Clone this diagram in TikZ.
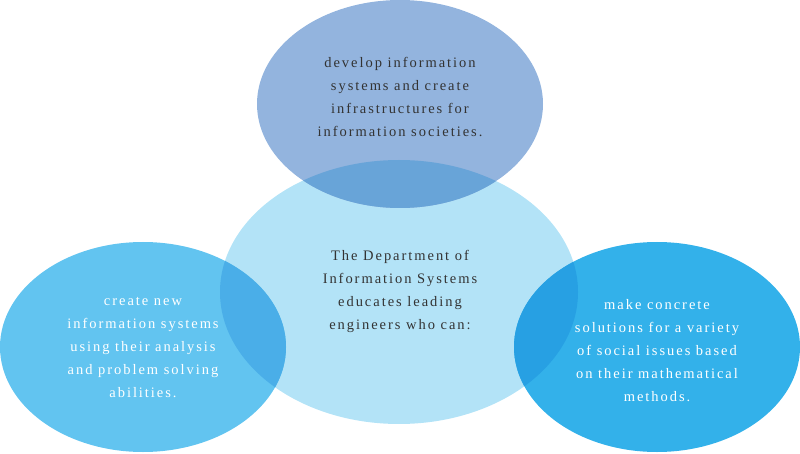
\documentclass[tikz,border=0pt]{standalone}
\usepackage{fontspec}
\setmainfont{Liberation Serif}[LetterSpace=13.5]
\definecolor{topblue}{HTML}{93B4DE}
\definecolor{topmix}{HTML}{68A4D8}
\definecolor{midblue}{HTML}{B3E3F7}
\definecolor{leftblue}{HTML}{62C4F0}
\definecolor{leftmix}{HTML}{4AAEE8}
\definecolor{rightblue}{HTML}{33B1EA}
\definecolor{rightmix}{HTML}{27A0E3}
\definecolor{inkgray}{HTML}{333333}

\begin{document}
\begin{tikzpicture}[
    x=1pt, y=-1pt,
    blurb/.style={align=center, font=\fontsize{14.5}{23}\selectfont, text=inkgray},
    blurbwhite/.style={blurb, text=white},
]
\useasboundingbox (0,0) rectangle (800,454);

% Ellipses
\fill[midblue] (399,292) ellipse [x radius=179, y radius=132];
\fill[topblue] (400,104) ellipse [x radius=143, y radius=104];
\fill[leftblue] (143,347) ellipse [x radius=143, y radius=105];
\fill[rightblue] (657,347) ellipse [x radius=143, y radius=105];

% Overlaps
\begin{scope}
  \clip (399,292) ellipse [x radius=179, y radius=132];
  \fill[topmix] (400,104) ellipse [x radius=143, y radius=104];
  \fill[leftmix] (143,347) ellipse [x radius=143, y radius=105];
  \fill[rightmix] (657,347) ellipse [x radius=143, y radius=105];
\end{scope}

% Texts
\node[blurb] (develop) at (400,97) {develop information\\systems and create\\infrastructures for\\information societies.};
\node[blurb] (dept) at (400,291) {The Department of\\Information Systems\\educates leading\\engineers who can:};
\node[blurbwhite] (create) at (143,348) {create new\\information systems\\using their analysis\\and problem solving\\abilities.};
\node[blurbwhite] (solve) at (657,351) {make concrete\\solutions for a variety\\of social issues based\\on their mathematical\\methods.};

\end{tikzpicture}
\end{document}
